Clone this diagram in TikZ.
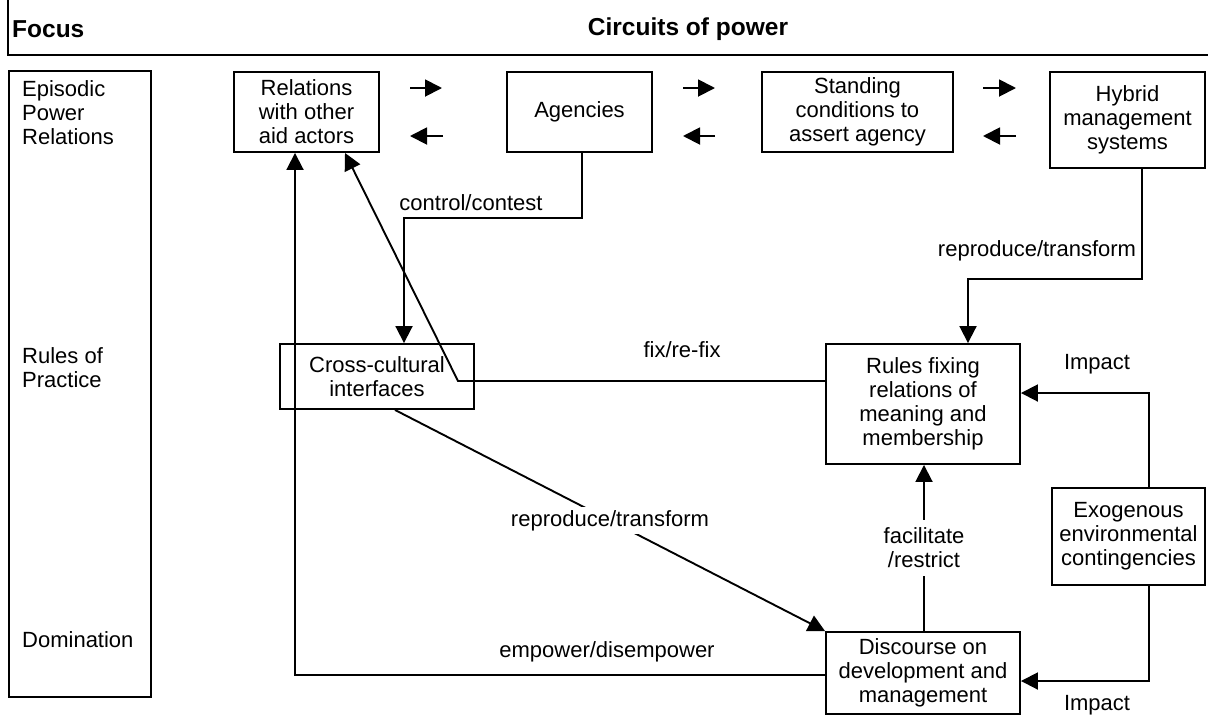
\documentclass[tikz,border=0pt]{standalone}
\usepackage{fontspec}
\setmainfont{Liberation Sans}
\usetikzlibrary{arrows.meta,calc}
\newcommand{\bodysize}{\fontsize{22}{24}\selectfont}
\newcommand{\headsize}{\fontsize{24.5}{28}\selectfont\bfseries}
\begin{document}
\begin{tikzpicture}[x=1pt,y=-1pt,
  box/.style={draw, line width=1.9pt, align=center, inner sep=0pt, font=\bodysize},
  lab/.style={font=\bodysize, inner sep=2pt, align=center},
  head/.style={font=\headsize, inner sep=0pt},
  conn/.style={line width=1.9pt, -{Triangle[length=17pt,width=17pt]}},
  plain/.style={line width=1.9pt}]
\useasboundingbox (0,0) rectangle (1208,716);

% header strip
\draw[plain] (8,0) -- (8,55) -- (1208,55);
\node[head, anchor=west] (focus) at (12,29) {Focus};
\node[head] (circuits) at (688,29) {Circuits of power};

% focus column
\node[draw, line width=1.9pt, minimum width=142pt, minimum height=626pt, inner sep=0pt, anchor=north west] (col) at (8,70) {};
\node[lab, anchor=west, align=left] (epr) at (20,113) {Episodic\\Power\\Relations};
\node[lab, anchor=west, align=left] (rop) at (20,367.5) {Rules of\\Practice};
\node[lab, anchor=west, align=left] (dom) at (20,640) {Domination};

% boxes
\node[box, minimum width=145pt, minimum height=80pt] (rel) at (306.5,112) {Relations\\with other\\aid actors};
\node[box, minimum width=145pt, minimum height=80pt] (ag) at (579.5,112) {Agencies};
\node[box, minimum width=191pt, minimum height=80pt] (st) at (857.5,112) {Standing\\conditions to\\assert agency};
\node[box, minimum width=155pt, minimum height=96pt] (hy) at (1127.5,120) {Hybrid\\management\\systems};
\node[box, minimum width=194pt, minimum height=65pt] (cc) at (377,376.5) {Cross-cultural\\interfaces};
\node[box, minimum width=194pt, minimum height=120pt] (ru) at (923,404) {Rules fixing\\relations of\\meaning and\\membership};
\node[box, minimum width=153pt, minimum height=97pt] (ex) at (1128.5,536.5) {Exogenous\\environmental\\contingencies};
\node[box, minimum width=194pt, minimum height=82pt] (di) at (923,673) {Discourse on\\development and\\management};

% short arrows between the top boxes
\coordinate (p1a) at (410,88);  \coordinate (p1b) at (442,88);
\coordinate (q1a) at (443,136); \coordinate (q1b) at (410,136);
\coordinate (p2a) at (683,88);  \coordinate (p2b) at (715,88);
\coordinate (q2a) at (715,136); \coordinate (q2b) at (683,136);
\coordinate (p3a) at (983,88);  \coordinate (p3b) at (1016,88);
\coordinate (q3a) at (1016,136); \coordinate (q3b) at (983,136);
\draw[conn] (p1a) -- (p1b);
\draw[conn] (q1a) -- (q1b);
\draw[conn] (p2a) -- (p2b);
\draw[conn] (q2a) -- (q2b);
\draw[conn] (p3a) -- (p3b);
\draw[conn] (q3a) -- (q3b);

% control/contest
\coordinate (cbend) at (404,218);
\draw[conn] ($(ag.south)+(2.5,0)$) |- (cbend) -- (cbend |- cc.north);
\node[lab] (lcc) at (471,203) {control/contest};

% fix/re-fix
\coordinate (fbend) at (458,381);
\draw[conn] ($(ru.west)+(0,-23)$) -- (fbend) -- ($(rel.south)+(38.5,0)$);
\node[lab] (lfix) at (682,350) {fix/re-fix};

% reproduce/transform from hybrid systems
\coordinate (hbend) at (968,279);
\draw[conn] ($(hy.south)+(14.5,0)$) |- (hbend) -- (hbend |- ru.north);
\node[lab] (lrt1) at (1037,251) {reproduce/transform};

% reproduce/transform from interfaces
\draw[conn] ($(cc.south)+(18,0)$) -- (di.north west)
  node[lab, pos=0.5, fill=white, inner xsep=2pt, inner ysep=3pt] (lrt2) {reproduce/transform};

% facilitate/restrict
\draw[conn] ($(di.north)+(1,0)$) -- ($(ru.south)+(1,0)$)
  node[lab, midway, fill=white, inner ysep=8pt] (lfr) {facilitate\\/restrict};

% impact arrows
\coordinate (i1) at (1149,393);
\draw[conn] ($(ex.north)+(20.5,0)$) -- (i1) -- (i1 -| ru.east);
\node[lab] (limp1) at (1097,364) {Impact};
\coordinate (i2) at (1149,681);
\draw[conn] ($(ex.south)+(20.5,0)$) -- (i2) -- (i2 -| di.east);
\node[lab] (limp2) at (1097,705) {Impact};

% empower/disempower
\coordinate (ebend) at (295,675);
\draw[conn] (ebend -| di.west) -- (ebend) -- (ebend |- rel.south);
\node[lab] (lemp) at (607,652) {empower/disempower};
\end{tikzpicture}
\end{document}
